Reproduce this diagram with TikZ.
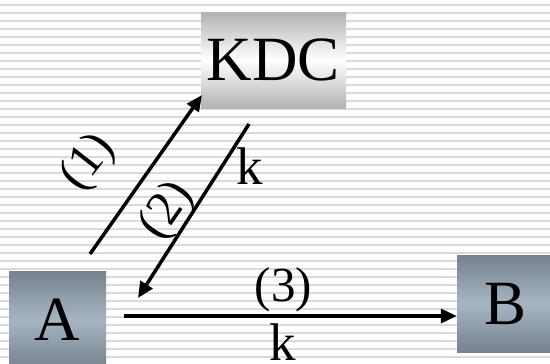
\documentclass[tikz,border=0pt]{standalone}
\usepackage{fontspec}
\setmainfont{Liberation Serif}
\usetikzlibrary{arrows.meta}
\definecolor{stripe}{HTML}{DADADA}
\definecolor{kdcgray}{HTML}{B2B2B2}
\definecolor{hostdark}{HTML}{77828E}
\definecolor{hostlight}{HTML}{A6B4C2}
\begin{document}
\begin{tikzpicture}[x=1pt,y=-1pt,
  box/.style={rectangle, inner sep=0pt, font=\fontsize{63}{63}\selectfont, text=black},
  kdcbox/.style={box, top color=kdcgray, bottom color=kdcgray, middle color=white, minimum width=145pt, minimum height=96pt},
  hostbox/.style={box, top color=hostdark, bottom color=hostdark, middle color=hostlight, minimum width=97pt, minimum height=97pt},
  msg/.style={line width=3.5pt, -{Triangle[length=16pt,width=14pt]}},
  lbl/.style={inner sep=0pt, font=\fontsize{49}{49}\selectfont},
  keylbl/.style={inner sep=0pt, font=\fontsize{53}{53}\selectfont}]
\useasboundingbox (0,0) rectangle (550,364);
\clip (0,0) rectangle (550,364);
\fill[white] (0,0) rectangle (550,364);
\foreach \i in {0,...,44} \fill[stripe] (0,4+8*\i) rectangle (550,6+8*\i);
% boxes
\node[kdcbox] (kdc) at (273.5,60) {KDC};
\node[hostbox] (a) at (57.5,319.5) {A};
\node[hostbox] (b) at (505.5,303.5) {B};
% connector ends
\coordinate (s1) at (90,254);
\coordinate (t1) at (202,95);
\coordinate (s2) at (249,124);
\coordinate (t2) at (138,298);
\coordinate (s3) at (124,316);
% connectors
\draw[msg] (s1) -- (t1);
\draw[msg] (s2) -- (t2);
\draw[msg] (s3) -- (s3 -| b.west);
% labels
\node[lbl, rotate=52] (l1) at (89,162.5) {(1)};
\node[lbl, rotate=55] (l2) at (167.5,211) {(2)};
\node[lbl] (l3) at (283.5,289.5) {(3)};
\node[keylbl] (k2) at (249.5,166.5) {k};
\node[keylbl] (k3) at (282.5,342.5) {k};
\end{tikzpicture}
\end{document}
